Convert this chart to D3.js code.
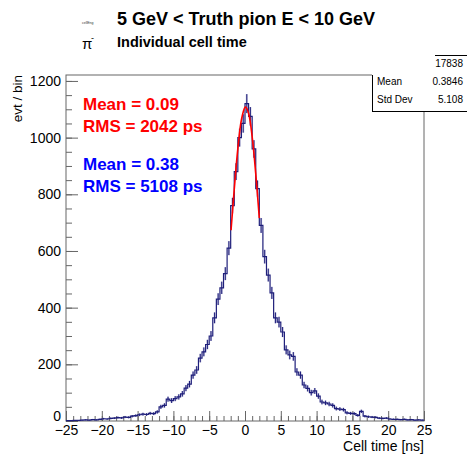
<!DOCTYPE html>
<html lang="en">
<head>
    <meta charset="UTF-8">
    <title>Individual cell time</title>
    <script src="https://d3js.org/d3.v7.min.js"></script>
    <style>
        body { margin: 0; background: #fff; }
        text { font-family: "Liberation Sans", Arial, Helvetica, sans-serif; }
    </style>
</head>
<body>
    <svg width="467" height="454"></svg>

    <script>
        // Histogram: 100 bins of 0.5 ns from -25 to 25 ns
        const binLow = -25, binWidth = 0.5;
        const counts = [
            1, 1, 2, 2, 3, 4, 3, 5, 4, 6,               // -25 .. -20
            8, 7, 9, 10, 12, 11, 14, 13, 17, 19,        // -20 .. -15
            22, 24, 23, 27, 26, 32, 50, 55, 77, 72,     // -15 .. -10
            79, 85, 96, 116, 130, 162, 180, 222, 244, 270, // -10 .. -5
            300, 364, 430, 470, 520, 610, 760, 880, 1000, 1050, // -5 .. 0
            1120, 1075, 960, 820, 690, 580, 515, 452, 364, 349, // 0 .. 5
            314, 251, 233, 228, 173, 162, 127, 115, 100, 106,   // 5 .. 10
            88, 67, 64, 60, 55, 44, 42, 40, 29, 27,     // 10 .. 15
            26, 20, 34, 17, 15, 14, 13, 10, 9, 10,      // 15 .. 20
            7, 6, 6, 5, 6, 4, 5, 3, 4, 3                // 20 .. 25
        ];

        // Red gaussian fit curve
        const fitX = [-1.95, -1.5, -1.0, -0.5, 0.0, 0.09, 0.5, 1.0, 1.5, 2.0];
        const fitY = [673, 818, 961, 1063, 1107, 1108, 1086, 1003, 873, 716];

        const xTicks = [-25, -20, -15, -10, -5, 0, 5, 10, 15, 20, 25];
        const yTicks = [0, 200, 400, 600, 800, 1000, 1200];

        const statNames = ["", "Mean", "Std Dev"];
        const statValues = ["17838", "0.3846", "5.108"];

        const fitLines = ["Mean = 0.09", "RMS = 2042 ps"];
        const histLines = ["Mean = 0.38", "RMS = 5108 ps"];

        const margin = { top: 75, right: 43, bottom: 33, left: 66 };
        const width = 467, height = 454;

        const svg = d3.select("svg");

        const x = d3.scaleLinear().domain([-25, 25]).range([margin.left, width - margin.right]);
        const y = d3.scaleLinear().domain([0, 1221]).range([height - margin.bottom, margin.top]);

        const axisColor = "#666";

        // frame
        svg.append("rect")
            .attr("x", x(-25)).attr("y", y(1221))
            .attr("width", x(25) - x(-25)).attr("height", y(0) - y(1221))
            .attr("fill", "none").attr("stroke", axisColor);

        // x axis, ticks inside
        const gx = svg.append("g").attr("transform", `translate(0,${y(0)})`);
        gx.call(d3.axisBottom(x).tickValues(d3.range(-25, 26, 1)).tickSize(-5).tickFormat(""));
        gx.select(".domain").remove();
        const gx2 = svg.append("g").attr("transform", `translate(0,${y(0)})`);
        gx2.call(d3.axisBottom(x).tickValues(xTicks).tickSize(-10).tickPadding(4));
        gx2.select(".domain").remove();
        gx2.selectAll("text").attr("font-size", 14).attr("fill", "#000")
            .attr("font-family", "Liberation Sans, Arial, sans-serif");

        // y axis, ticks inside
        const gy = svg.append("g").attr("transform", `translate(${x(-25)},0)`);
        gy.call(d3.axisLeft(y).tickValues(d3.range(0, 1201, 50)).tickSize(-6).tickFormat(""));
        gy.select(".domain").remove();
        const gy2 = svg.append("g").attr("transform", `translate(${x(-25)},0)`);
        gy2.call(d3.axisLeft(y).tickValues(yTicks).tickSize(-12).tickPadding(5).tickFormat(d3.format("d")));
        gy2.select(".domain").remove();
        gy2.selectAll("text").attr("font-size", 14).attr("fill", "#000")
            .attr("font-family", "Liberation Sans, Arial, sans-serif");
        // the "0" label sits a bit higher, above the "-25"
        gy2.selectAll(".tick").filter(d => d === 0).select("text").attr("dy", "-0.05em");
        svg.selectAll("g line").attr("stroke", axisColor);

        // axis titles
        svg.append("text")
            .attr("x", x(25)).attr("y", 451)
            .attr("text-anchor", "end").attr("font-size", 14)
            .text("Cell time [ns]");
        svg.append("text")
            .attr("transform", `translate(22,${y(1221)}) rotate(-90)`)
            .attr("text-anchor", "end").attr("font-size", 13.5)
            .text("evt / bin");

        // histogram bins
        const bins = counts.map((c, i) => ({ x0: binLow + i * binWidth, x1: binLow + (i + 1) * binWidth, v: c }));
        const navy = "#1e1e7a";

        // light error boxes
        svg.append("g").selectAll("rect")
            .data(bins)
            .join("rect")
            .attr("x", d => x((d.x0 + d.x1) / 2) - 1)
            .attr("width", 2)
            .attr("y", d => y(d.v + Math.sqrt(d.v)))
            .attr("height", d => y(d.v - Math.sqrt(d.v)) - y(d.v + Math.sqrt(d.v)))
            .attr("fill", "#a4a4cc").attr("opacity", 0.7);

        // step line
        const steps = [];
        bins.forEach(d => { steps.push([d.x0, d.v]); steps.push([d.x1, d.v]); });
        svg.append("path")
            .datum(steps)
            .attr("fill", "none")
            .attr("stroke", navy)
            .attr("stroke-width", 1.2)
            .attr("d", d3.line().x(d => x(d[0])).y(d => y(d[1])));

        // error bars
        svg.append("g").selectAll("line")
            .data(bins)
            .join("line")
            .attr("x1", d => x((d.x0 + d.x1) / 2)).attr("x2", d => x((d.x0 + d.x1) / 2))
            .attr("y1", d => y(d.v + Math.sqrt(d.v)))
            .attr("y2", d => y(Math.max(0, d.v - Math.sqrt(d.v))))
            .attr("stroke", navy).attr("stroke-width", 1);

        // fit curve
        svg.append("path")
            .datum(fitX.map((v, i) => [v, fitY[i]]))
            .attr("fill", "none")
            .attr("stroke", "#ff0000")
            .attr("stroke-width", 1.6)
            .attr("d", d3.line().x(d => x(d[0])).y(d => y(d[1])).curve(d3.curveCatmullRom));

        // fit / hist summary texts
        svg.append("g").selectAll("text")
            .data(fitLines)
            .join("text")
            .attr("x", 83).attr("y", (d, i) => 110 + i * 22)
            .attr("font-size", 17).attr("font-weight", "bold").attr("fill", "#ff0000")
            .text(d => d);
        svg.append("g").selectAll("text")
            .data(histLines)
            .join("text")
            .attr("x", 83).attr("y", (d, i) => 170 + i * 22)
            .attr("font-size", 17).attr("font-weight", "bold").attr("fill", "#0000ff")
            .text(d => d);

        // stats box (partly hidden under the title)
        const stats = svg.append("g");
        stats.append("rect")
            .attr("x", 372).attr("y", 55).attr("width", 100).attr("height", 56)
            .attr("fill", "#fff");
        stats.append("rect")
            .attr("x", 0).attr("y", 0).attr("width", 435).attr("height", 72)
            .attr("fill", "#fff");
        stats.append("line").attr("x1", 435).attr("x2", 467).attr("y1", 55.5).attr("y2", 55.5).attr("stroke", "#000");
        stats.append("line").attr("x1", 372.5).attr("x2", 372.5).attr("y1", 75).attr("y2", 111).attr("stroke", "#000");
        stats.append("line").attr("x1", 372).attr("x2", 467).attr("y1", 111.5).attr("y2", 111.5).attr("stroke", "#000");
        statNames.forEach((n, i) => {
            stats.append("text").attr("x", 377).attr("y", 67 + i * 18)
                .attr("font-size", 10).text(n);
            stats.append("text").attr("x", 463).attr("y", 67 + i * 18)
                .attr("font-size", 10).attr("text-anchor", "end").text(statValues[i]);
        });

        // title block
        svg.append("text")
            .attr("x", 117).attr("y", 25)
            .attr("font-size", 18).attr("font-weight", "bold")
            .text("5 GeV < Truth pion E < 10 GeV");
        svg.append("text")
            .attr("x", 117).attr("y", 47)
            .attr("font-size", 14.5).attr("font-weight", "bold")
            .text("Individual cell time");
        svg.append("text")
            .attr("x", 82).attr("y", 24)
            .attr("font-size", 3.5).attr("fill", "#333")
            .text("cellEng");
        svg.append("text")
            .attr("x", 82).attr("y", 49)
            .attr("font-size", 15).attr("font-family", "Liberation Serif, serif")
            .text("π");
        svg.append("text")
            .attr("x", 91).attr("y", 41)
            .attr("font-size", 9)
            .text("-");
    </script>
</body>
</html>
